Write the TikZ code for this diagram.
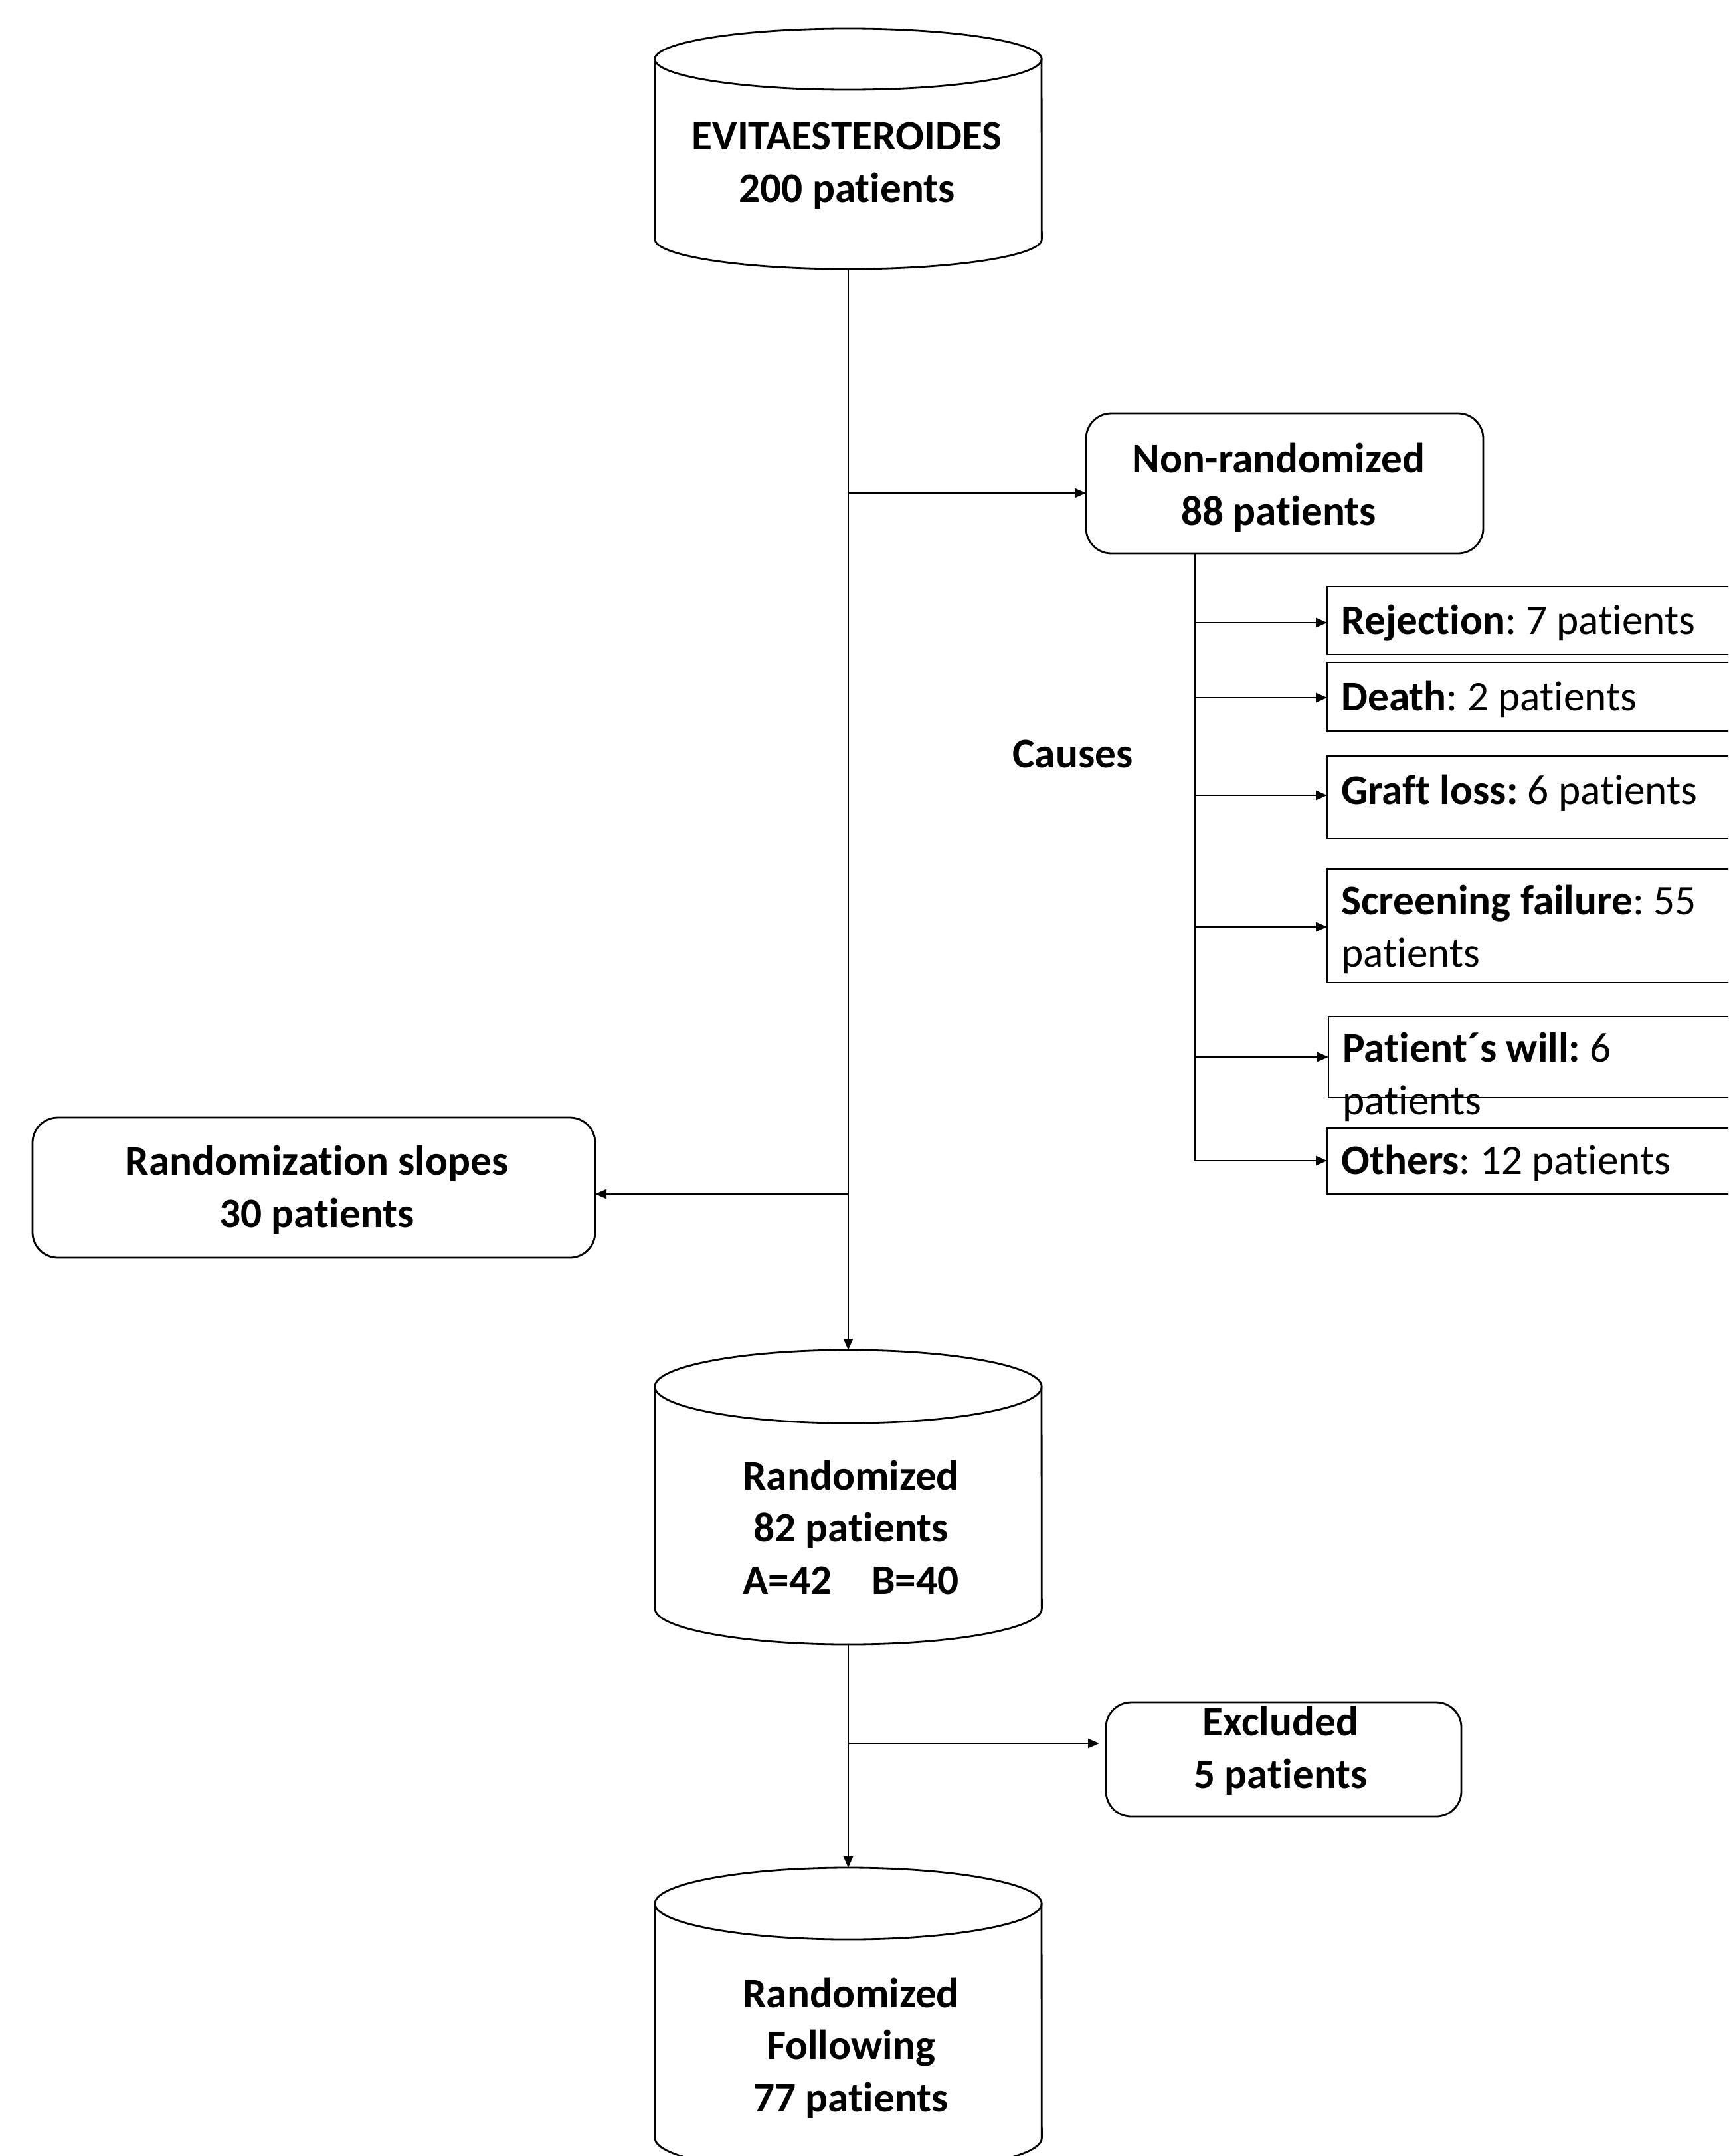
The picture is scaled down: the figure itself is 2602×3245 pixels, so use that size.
\documentclass[tikz,border=0pt]{standalone}
\usepackage{fontspec}
\setmainfont{Carlito}[Ligatures=NoCommon]
\usetikzlibrary{arrows.meta,fit}
\frenchspacing
\begin{document}
\begin{tikzpicture}[x=0.01cm,y=0.01cm,
  line width=0.8pt,
  txt/.style={font=\fontsize{18}{22.2}\selectfont, inner sep=0pt},
  title/.style={txt, font=\fontsize{18}{22.2}\selectfont\bfseries, align=center, anchor=base},
  cause/.style={txt, align=left, anchor=base west},
  geo/.style={inner sep=0pt, outer sep=0pt},
  rbox/.style={draw, rounded corners=0.38cm, inner sep=0pt, outer sep=0pt},
  sbox/.style={draw, inner sep=0pt, outer sep=0pt},
  arr/.style={-{Triangle[length=0.17cm,width=0.14cm]}}
]
\useasboundingbox (0,0) rectangle (2602,-3245);
\clip (0,0) rectangle (2602,-3245);

% ---------- cylinders ----------
\node[geo, fit={(986,-43) (1568,-405)}] (c1) {};
\draw (1277,-89) ellipse [x radius=2.91cm, y radius=0.46cm];
\draw (986,-89) -- (986,-360) arc[start angle=180, end angle=360, x radius=2.91cm, y radius=0.45cm] -- (1568,-89);
\node[title] (t1) at (1275,-304) {EVITAESTEROIDES\\200 patients};

\node[geo, fit={(986,-2032) (1568,-2475)}] (c2) {};
\draw (1277,-2087) ellipse [x radius=2.91cm, y radius=0.55cm];
\draw (986,-2087) -- (986,-2421) arc[start angle=180, end angle=360, x radius=2.91cm, y radius=0.54cm] -- (1568,-2087);
\node[title] (t2) at (1281,-2399) {Randomized\\82 patients\\A=42\hspace{0.95em}B=40};

\node[geo, fit={(986,-2811) (1568,-3272)}] (c3) {};
\draw (1277,-2865) ellipse [x radius=2.91cm, y radius=0.54cm];
\draw (986,-2865) -- (986,-3218) arc[start angle=180, end angle=360, x radius=2.91cm, y radius=0.54cm] -- (1568,-2865);
\node[title] (t3) at (1281,-3178) {Randomized\\Following\\77 patients};

% ---------- rounded boxes ----------
\node[rbox, fit={(1635,-622) (2233,-833)}] (nr) {};
\node[title] (tnr) at (1925,-790) {Non-randomized\\88 patients};

\node[rbox, fit={(49,-1682) (896,-1893)}] (rs) {};
\node[title] (trs) at (477,-1847) {Randomization slopes\\30 patients};

\node[rbox, fit={(1665,-2562) (2200,-2734)}] (ex) {};
\node[title] (tex) at (1928,-2691) {Excluded\\5 patients};

\node[title] (causes) at (1615,-1155) {Causes};

% ---------- cause boxes ----------
\node[sbox, fit={(1998,-883) (2650,-985)}] (r1) {};
\node[sbox, fit={(1998,-997) (2650,-1100)}] (r2) {};
\node[sbox, fit={(1998,-1138) (2650,-1262)}] (r3) {};
\node[sbox, fit={(1998,-1308) (2650,-1479)}] (r4) {};
\node[sbox, fit={(2000,-1530) (2650,-1652)}] (r5) {};
\node[sbox, fit={(1998,-1698) (2650,-1797)}] (r6) {};

\node[cause] (q1) at (2018,-954) {\textbf{Rejection}: 7 patients};
\node[cause] (q2) at (2018,-1069) {\textbf{Death}: 2 patients};
\node[cause] (q3) at (2018,-1210) {\textbf{Graft loss:} 6 patients};
\node[cause] (q4) at (2018,-1455) {\textbf{Screening failure}: 55\\patients};
\node[cause] (q5) at (2020,-1677) {\textbf{Patient´s will:} 6\\patients};
\node[cause] (q6) at (2018,-1767) {\textbf{Others}: 12 patients};

% ---------- connectors ----------
\draw[arr] (c1.south) -- (c2.north);
\coordinate (b1) at (1277,-742);
\draw[arr] (b1) -- (b1 -| nr.west);
\coordinate (b2) at (1277,-1797);
\draw[arr] (b2) -- (b2 -| rs.east);

\coordinate (k1) at (1799,-937);
\coordinate (k2) at (1799,-1050);
\coordinate (k3) at (1799,-1197);
\coordinate (k4) at (1799,-1395);
\coordinate (k5) at (1799,-1591);
\coordinate (k6) at (1799,-1747);
\draw (k1 |- nr.south) -- (k6);
\draw[arr] (k1) -- (k1 -| r1.west);
\draw[arr] (k2) -- (k2 -| r2.west);
\draw[arr] (k3) -- (k3 -| r3.west);
\draw[arr] (k4) -- (k4 -| r4.west);
\draw[arr] (k5) -- (k5 -| r5.west);
\draw[arr] (k6) -- (k6 -| r6.west);

\draw[arr] (c2.south) -- (c3.north);
\coordinate (b3) at (1277,-2624);
\draw[arr] (b3) -- ([xshift=-0.1cm]b3 -| ex.west);
\end{tikzpicture}
\end{document}
